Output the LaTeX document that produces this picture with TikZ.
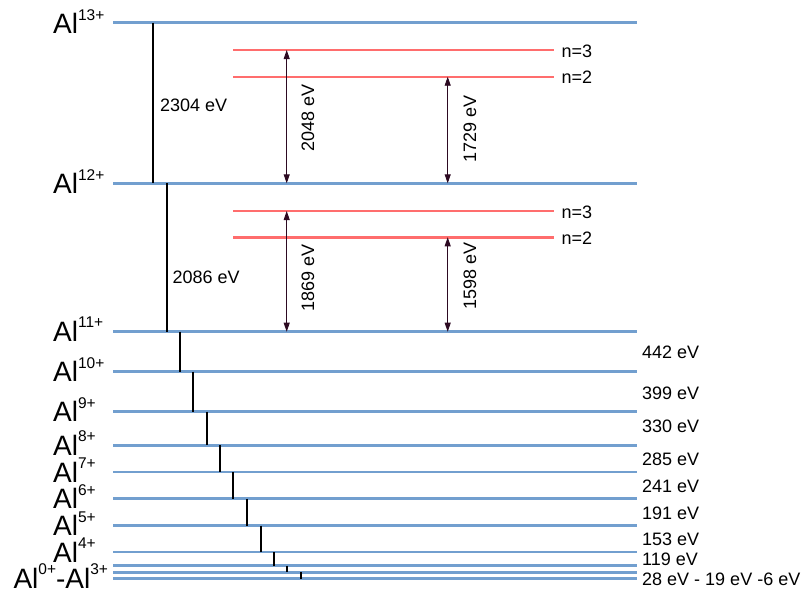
\documentclass[tikz,border=0pt]{standalone}
\usepackage{fontspec}
\setmainfont{Liberation Sans}
\usetikzlibrary{arrows.meta}
\definecolor{lvl}{HTML}{729FCF}
\definecolor{exc}{HTML}{FF6D6D}
\definecolor{arr}{HTML}{2D0A22}
\newcommand\chg[1]{\raisebox{13.5pt}{\fontsize{15.5}{16}\selectfont #1}}
\begin{document}
\begin{tikzpicture}[x=1pt,y=-1pt,
  level/.style={lvl,line width=2.9pt},
  nlevel/.style={exc,line width=2.4pt},
  ioniz/.style={black,line width=2pt},
  excarrow/.style={arr,line width=0.9pt,{Triangle[length=9pt,width=6pt]}-{Triangle[length=9pt,width=6pt]}},
  allabel/.style={anchor=base west,inner sep=0pt,font=\fontsize{28}{30}\selectfont},
  evlabel/.style={anchor=base west,inner sep=0pt,font=\fontsize{18}{20}\selectfont},
  rotlabel/.style={rotate=90,inner sep=0pt,font=\fontsize{18}{20}\selectfont}]
\useasboundingbox (0,0) rectangle (805,590);
% level coordinates
\foreach \n/\y in {13/22.5,12/183.3,11/331.7,10/371.7,9/411.7,8/445.3,7/472,6/498.7,5/525.7,4/552,3/565.7,2/572.3,1/578.7}{
  \coordinate (a\n) at (113,\y);
  \coordinate (b\n) at (637,\y);
}
\foreach \n in {13,12,11,10,9,8,7,6,5,4,3,2,1}{\draw[level] (a\n) -- (b\n);}
% excited levels
\coordinate (r3a) at (233,50); \coordinate (r3b) at (554,50);
\coordinate (r2a) at (233,76.7); \coordinate (r2b) at (554,76.7);
\coordinate (s3a) at (233,211); \coordinate (s3b) at (554,211);
\coordinate (s2a) at (233,237.3); \coordinate (s2b) at (554,237.3);
\draw[nlevel] (r3a) -- (r3b);
\draw[nlevel] (r2a) -- (r2b);
\draw[nlevel] (s3a) -- (s3b);
\draw[nlevel] (s2a) -- (s2b);
\node[evlabel] (ln1) at (561.5,57.3) {n=3};
\node[evlabel] (ln2) at (561.5,83.3) {n=2};
\node[evlabel] (ln3) at (561.5,218.3) {n=3};
\node[evlabel] (ln4) at (561.5,244) {n=2};
% ionization steps
\foreach \up/\lo/\x in {13/12/153.3,12/11/166.5,11/10/180,10/9/193.3,9/8/206.7,8/7/220,7/6/233.3,6/5/246.7,5/4/260.7,4/3/274,3/2/287,2/1/300.7}{
  \coordinate (t\up) at (a\up -| \x,0);
  \coordinate (u\up) at (a\lo -| \x,0);
  \draw[ioniz] (t\up) -- (u\up);
}
\node[evlabel] (e2304) at (160,111) {2304 eV};
\node[evlabel] (e2086) at (172.3,283.5) {2086 eV};
% excitation arrows
\coordinate (x1t) at (r3a -| 286.7,0); \coordinate (x1b) at (a12 -| 286.7,0);
\coordinate (x2t) at (r2a -| 447.7,0); \coordinate (x2b) at (a12 -| 447.7,0);
\coordinate (x3t) at (s3a -| 286.7,0); \coordinate (x3b) at (a11 -| 286.7,0);
\coordinate (x4t) at (s2a -| 447.7,0); \coordinate (x4b) at (a11 -| 447.7,0);
\draw[excarrow] (x1t) -- (x1b);
\draw[excarrow] (x2t) -- (x2b);
\draw[excarrow] (x3t) -- (x3b);
\draw[excarrow] (x4t) -- (x4b);
\node[rotlabel] (e2048) at (308,117.5) {2048 eV};
\node[rotlabel] (e1729) at (470,129) {1729 eV};
\node[rotlabel] (e1869) at (308,277.5) {1869 eV};
\node[rotlabel] (e1598) at (470,276) {1598 eV};
% ion labels
\node[allabel] (al13) at (53,33.5) {Al\chg{13+}};
\node[allabel] (al12) at (53,193.5) {Al\chg{12+}};
\node[allabel] (al11) at (53,341) {Al\chg{11+}};
\node[allabel] (al10) at (53,381.5) {Al\chg{10+}};
\node[allabel] (al9) at (53,421.5) {Al\chg{9+}};
\node[allabel] (al8) at (53,455) {Al\chg{8+}};
\node[allabel] (al7) at (53,482) {Al\chg{7+}};
\node[allabel] (al6) at (53,508.5) {Al\chg{6+}};
\node[allabel] (al5) at (53,535.5) {Al\chg{5+}};
\node[allabel] (al4) at (53,562) {Al\chg{4+}};
\node[allabel] (al0) at (13.3,588) {Al\chg{0+}-Al\chg{3+}};
% ionization energies
\node[evlabel] (i442) at (642,358.3) {442 eV};
\node[evlabel] (i399) at (642,399) {399 eV};
\node[evlabel] (i330) at (642,432.3) {330 eV};
\node[evlabel] (i285) at (642,465.7) {285 eV};
\node[evlabel] (i241) at (642,492.3) {241 eV};
\node[evlabel] (i191) at (642,519) {191 eV};
\node[evlabel] (i153) at (642,545.7) {153 eV};
\node[evlabel] (i119) at (642,565.7) {119 eV};
\node[evlabel] (i28) at (642,585) {28 eV - 19 eV -6 eV};
\end{tikzpicture}
\end{document}
